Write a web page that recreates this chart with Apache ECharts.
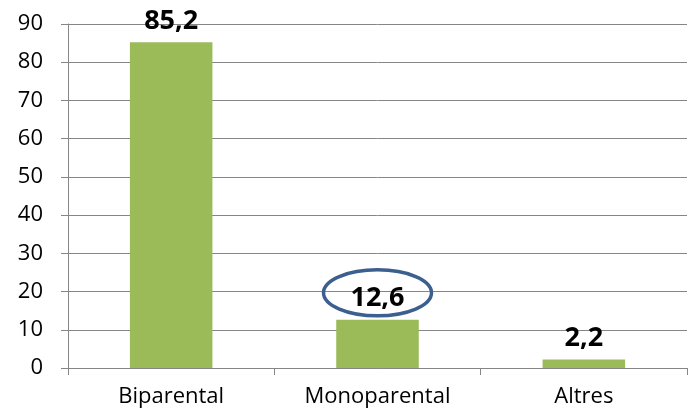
<!DOCTYPE html>
<html>
<head>
<meta charset="utf-8">
<script src="https://cdn.jsdelivr.net/npm/echarts@6/dist/echarts.min.js"></script>
<style>
  html, body { margin: 0; padding: 0; background: #fff; }
  #chart { width: 692px; height: 419px; }
</style>
</head>
<body>
<div id="chart"></div>
<script>
const categories = ['Biparental', 'Monoparental', 'Altres']
const values = [85.2, 12.6, 2.2]
const yTicks = [0, 10, 20, 30, 40, 50, 60, 70, 80, 90]
// index of the value circled in the original
const circledIndex = 1

const chart = echarts.init(document.getElementById('chart'))
const fontFamily = '"Open Sans", Lato, sans-serif'

const option = {
  animation: false,
  grid: { left: 68, right: 5, top: 24, bottom: 51 },
  xAxis: {
    type: 'category',
    data: categories,
    axisLine: { lineStyle: { color: '#868686', width: 1 } },
    axisTick: { show: true, length: 7, lineStyle: { color: '#868686' } },
    axisLabel: { color: '#000', fontSize: 22, fontFamily: fontFamily, margin: 18 }
  },
  yAxis: {
    type: 'value',
    min: yTicks[0],
    max: yTicks[yTicks.length - 1],
    interval: 10,
    axisLine: { show: true, lineStyle: { color: '#868686', width: 1 } },
    axisTick: { show: true, length: 7, lineStyle: { color: '#868686' } },
    splitLine: { lineStyle: { color: '#868686', width: 1 } },
    axisLabel: { color: '#000', fontSize: 22, fontFamily: fontFamily, margin: 25 }
  },
  series: [
    {
      type: 'bar',
      data: values,
      barWidth: '40%',
      itemStyle: { color: '#9BBB59' },
      label: {
        show: true,
        position: 'top',
        distance: 8,
        color: '#000',
        fontSize: 27,
        fontWeight: 'bold',
        fontFamily: fontFamily,
        formatter: p => String(p.value).replace('.', ',')
      }
    }
  ]
}

chart.setOption(option)

// ellipse round the circled label, placed from the chart's own scales
const [cx, cy] = chart.convertToPixel({ seriesIndex: 0 }, [circledIndex, values[circledIndex]])
chart.setOption({
  graphic: [
    {
      type: 'ellipse',
      shape: { cx: cx, cy: cy - 27, rx: 54, ry: 23 },
      style: { fill: 'none', stroke: '#3B5F8E', lineWidth: 3.5 },
      z: 10
    }
  ]
})
</script>
</body>
</html>
